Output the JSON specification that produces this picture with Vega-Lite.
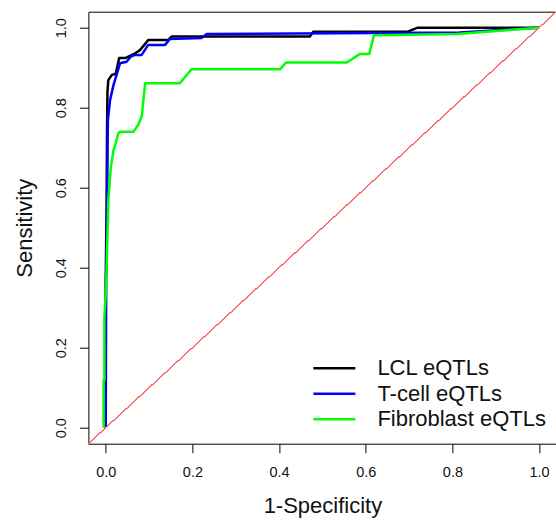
{
  "$schema": "https://vega.github.io/schema/vega-lite/v6.json",
  "autosize": "none",
  "width": 468,
  "height": 432,
  "padding": {"left": 88.4, "top": 11.7, "right": 0, "bottom": 78},
  "background": "white",
  "config": {
    "font": "Liberation Sans",
    "view": {"stroke": "black", "strokeWidth": 1},
    "axis": {
      "labelFont": "Liberation Sans",
      "titleFont": "Liberation Sans",
      "labelFontSize": 14.5,
      "titleFontSize": 22,
      "titleFontWeight": "normal",
      "labelColor": "#111111",
      "titleColor": "#111111",
      "tickColor": "black",
      "tickSize": 9,
      "domain": false,
      "grid": false
    },
    "legend": {
      "labelFont": "Liberation Sans",
      "labelFontSize": 22,
      "labelColor": "#111111",
      "labelLimit": 0
    }
  },
  "datasets": {
    "roc": [
      {"series": "LCL eQTLs", "step": 0, "fpr": 0.0, "tpr": 0.0},
      {"series": "LCL eQTLs", "step": 1, "fpr": 0.0, "tpr": 0.37},
      {"series": "LCL eQTLs", "step": 2, "fpr": 0.002, "tpr": 0.55},
      {"series": "LCL eQTLs", "step": 3, "fpr": 0.003, "tpr": 0.75},
      {"series": "LCL eQTLs", "step": 4, "fpr": 0.004, "tpr": 0.84},
      {"series": "LCL eQTLs", "step": 5, "fpr": 0.006, "tpr": 0.869},
      {"series": "LCL eQTLs", "step": 6, "fpr": 0.014, "tpr": 0.882},
      {"series": "LCL eQTLs", "step": 7, "fpr": 0.023, "tpr": 0.884},
      {"series": "LCL eQTLs", "step": 8, "fpr": 0.031, "tpr": 0.924},
      {"series": "LCL eQTLs", "step": 9, "fpr": 0.045, "tpr": 0.924},
      {"series": "LCL eQTLs", "step": 10, "fpr": 0.068, "tpr": 0.936},
      {"series": "LCL eQTLs", "step": 11, "fpr": 0.079, "tpr": 0.944},
      {"series": "LCL eQTLs", "step": 12, "fpr": 0.098, "tpr": 0.969},
      {"series": "LCL eQTLs", "step": 13, "fpr": 0.144, "tpr": 0.969},
      {"series": "LCL eQTLs", "step": 14, "fpr": 0.152, "tpr": 0.978},
      {"series": "LCL eQTLs", "step": 15, "fpr": 0.471, "tpr": 0.978},
      {"series": "LCL eQTLs", "step": 16, "fpr": 0.479, "tpr": 0.99},
      {"series": "LCL eQTLs", "step": 17, "fpr": 0.697, "tpr": 0.99},
      {"series": "LCL eQTLs", "step": 18, "fpr": 0.72, "tpr": 1.0},
      {"series": "LCL eQTLs", "step": 19, "fpr": 1.0, "tpr": 1.0},

      {"series": "T-cell eQTLs", "step": 0, "fpr": 0.0, "tpr": 0.0},
      {"series": "T-cell eQTLs", "step": 1, "fpr": 0.001, "tpr": 0.374},
      {"series": "T-cell eQTLs", "step": 2, "fpr": 0.002, "tpr": 0.444},
      {"series": "T-cell eQTLs", "step": 3, "fpr": 0.005, "tpr": 0.769},
      {"series": "T-cell eQTLs", "step": 4, "fpr": 0.01, "tpr": 0.819},
      {"series": "T-cell eQTLs", "step": 5, "fpr": 0.018, "tpr": 0.857},
      {"series": "T-cell eQTLs", "step": 6, "fpr": 0.025, "tpr": 0.882},
      {"series": "T-cell eQTLs", "step": 7, "fpr": 0.033, "tpr": 0.911},
      {"series": "T-cell eQTLs", "step": 8, "fpr": 0.048, "tpr": 0.915},
      {"series": "T-cell eQTLs", "step": 9, "fpr": 0.058, "tpr": 0.928},
      {"series": "T-cell eQTLs", "step": 10, "fpr": 0.068, "tpr": 0.932},
      {"series": "T-cell eQTLs", "step": 11, "fpr": 0.083, "tpr": 0.932},
      {"series": "T-cell eQTLs", "step": 12, "fpr": 0.098, "tpr": 0.957},
      {"series": "T-cell eQTLs", "step": 13, "fpr": 0.137, "tpr": 0.957},
      {"series": "T-cell eQTLs", "step": 14, "fpr": 0.148, "tpr": 0.972},
      {"series": "T-cell eQTLs", "step": 15, "fpr": 0.221, "tpr": 0.974},
      {"series": "T-cell eQTLs", "step": 16, "fpr": 0.233, "tpr": 0.984},
      {"series": "T-cell eQTLs", "step": 17, "fpr": 0.817, "tpr": 0.988},
      {"series": "T-cell eQTLs", "step": 18, "fpr": 1.0, "tpr": 1.0},

      {"series": "Fibroblast eQTLs", "step": 0, "fpr": -0.005, "tpr": 0.0},
      {"series": "Fibroblast eQTLs", "step": 1, "fpr": -0.005, "tpr": 0.119},
      {"series": "Fibroblast eQTLs", "step": 2, "fpr": -0.003, "tpr": 0.119},
      {"series": "Fibroblast eQTLs", "step": 3, "fpr": -0.003, "tpr": 0.278},
      {"series": "Fibroblast eQTLs", "step": 4, "fpr": 0.001, "tpr": 0.353},
      {"series": "Fibroblast eQTLs", "step": 5, "fpr": 0.003, "tpr": 0.444},
      {"series": "Fibroblast eQTLs", "step": 6, "fpr": 0.006, "tpr": 0.569},
      {"series": "Fibroblast eQTLs", "step": 7, "fpr": 0.012, "tpr": 0.653},
      {"series": "Fibroblast eQTLs", "step": 8, "fpr": 0.018, "tpr": 0.694},
      {"series": "Fibroblast eQTLs", "step": 9, "fpr": 0.023, "tpr": 0.711},
      {"series": "Fibroblast eQTLs", "step": 10, "fpr": 0.029, "tpr": 0.736},
      {"series": "Fibroblast eQTLs", "step": 11, "fpr": 0.033, "tpr": 0.74},
      {"series": "Fibroblast eQTLs", "step": 12, "fpr": 0.064, "tpr": 0.74},
      {"series": "Fibroblast eQTLs", "step": 13, "fpr": 0.075, "tpr": 0.757},
      {"series": "Fibroblast eQTLs", "step": 14, "fpr": 0.083, "tpr": 0.778},
      {"series": "Fibroblast eQTLs", "step": 15, "fpr": 0.091, "tpr": 0.861},
      {"series": "Fibroblast eQTLs", "step": 16, "fpr": 0.171, "tpr": 0.861},
      {"series": "Fibroblast eQTLs", "step": 17, "fpr": 0.198, "tpr": 0.896},
      {"series": "Fibroblast eQTLs", "step": 18, "fpr": 0.402, "tpr": 0.896},
      {"series": "Fibroblast eQTLs", "step": 19, "fpr": 0.416, "tpr": 0.913},
      {"series": "Fibroblast eQTLs", "step": 20, "fpr": 0.556, "tpr": 0.913},
      {"series": "Fibroblast eQTLs", "step": 21, "fpr": 0.586, "tpr": 0.934},
      {"series": "Fibroblast eQTLs", "step": 22, "fpr": 0.608, "tpr": 0.934},
      {"series": "Fibroblast eQTLs", "step": 23, "fpr": 0.619, "tpr": 0.981},
      {"series": "Fibroblast eQTLs", "step": 24, "fpr": 0.809, "tpr": 0.984},
      {"series": "Fibroblast eQTLs", "step": 25, "fpr": 1.0, "tpr": 1.0}
    ]
  },
  "data": {"name": "roc"},
  "encoding": {
    "x": {
      "field": "fpr",
      "type": "quantitative",
      "title": "1-Specificity",
      "scale": {"domain": [-0.04, 1.04], "nice": false, "zero": false},
      "axis": {
        "values": [0, 0.2, 0.4, 0.6, 0.8, 1.0],
        "format": ".1f",
        "labelPadding": 13,
        "titlePadding": 16
      }
    },
    "y": {
      "field": "tpr",
      "type": "quantitative",
      "title": "Sensitivity",
      "scale": {"domain": [-0.04, 1.04], "nice": false, "zero": false},
      "axis": {
        "values": [0, 0.2, 0.4, 0.6, 0.8, 1.0],
        "format": ".1f",
        "labelAngle": -90,
        "labelAlign": "center",
        "labelBaseline": "bottom",
        "labelPadding": 10.5,
        "titlePadding": 17
      }
    },
    "order": {"field": "step", "type": "quantitative"},
    "color": {
      "field": "series",
      "type": "nominal",
      "scale": {
        "domain": ["LCL eQTLs", "T-cell eQTLs", "Fibroblast eQTLs"],
        "range": ["#000000", "#0000ff", "#00ff00"]
      },
      "legend": {
        "title": null,
        "orient": "none",
        "legendX": 234,
        "legendY": 344.5,
        "symbolType": "M-2,0H2",
        "symbolSize": 441,
        "symbolStrokeWidth": 2.5,
        "labelOffset": 31,
        "rowPadding": 2.5
      }
    }
  },
  "layer": [
    {
      "transform": [{"filter": "datum.series === 'LCL eQTLs'"}],
      "mark": {"type": "line", "strokeWidth": 2.5, "strokeJoin": "round"}
    },
    {
      "transform": [{"filter": "datum.series === 'T-cell eQTLs'"}],
      "mark": {"type": "line", "strokeWidth": 2.5, "strokeJoin": "round"}
    },
    {
      "transform": [{"filter": "datum.series === 'Fibroblast eQTLs'"}],
      "mark": {"type": "line", "strokeWidth": 2.5, "strokeJoin": "round"}
    },
    {
      "mark": {"type": "rule", "color": "#ff6e6e", "strokeWidth": 1},
      "encoding": {
        "x": {"datum": -0.04},
        "y": {"datum": -0.04},
        "x2": {"datum": 1.04},
        "y2": {"datum": 1.04},
        "color": null,
        "order": null
      }
    }
  ]
}
